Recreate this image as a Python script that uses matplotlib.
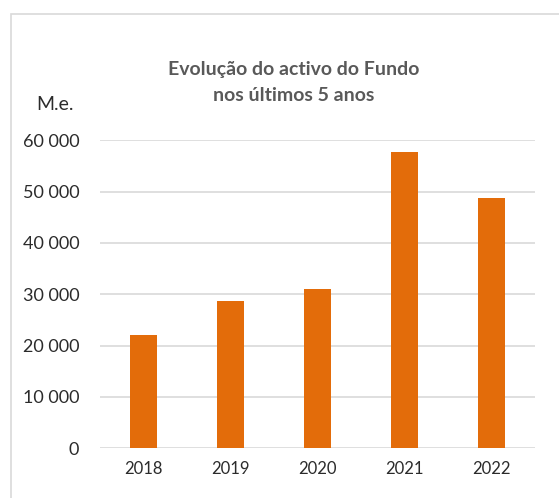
import matplotlib
matplotlib.use("Agg")
import matplotlib.pyplot as plt
from matplotlib.patches import Rectangle
from matplotlib.ticker import FuncFormatter

years = ["2018", "2019", "2020", "2021", "2022"]
values = [22100, 28750, 31100, 57700, 48700]
yticks = [0, 10000, 20000, 30000, 40000, 50000, 60000]

plt.rcParams['font.family'] = ['Lato', 'DejaVu Sans']

W, H = 559, 498
fig = plt.figure(figsize=(W/100, H/100), dpi=100)
fig.patch.set_facecolor('white')

# outer chart frame
fig.patches.append(Rectangle((10.5/W, -0.1), 1.2, 1 - 14.5/H + 0.1,
                             transform=fig.transFigure, fill=False,
                             edgecolor='#d9d9d9', linewidth=1.2))

ax = fig.add_axes([100/W, 1 - 448.3/H, 435/W, (448.3 - 140.3)/H])
ax.bar(range(len(years)), values, width=0.31, color='#e36c0a', zorder=3)
ax.set_xlim(-0.5, len(years) - 0.5)
ax.set_ylim(0, 60000)
ax.set_yticks(yticks)
ax.yaxis.set_major_formatter(FuncFormatter(lambda v, p: f"{int(v):,}".replace(",", " ")))
ax.set_xticks(range(len(years)))
ax.set_xticklabels(years)
ax.grid(axis='y', color='#d9d9d9', linewidth=1.2, zorder=0)
for s in ax.spines.values():
    s.set_visible(False)
ax.tick_params(axis='y', length=0, labelsize=13, labelcolor='#2b2b2b', pad=15)
ax.tick_params(axis='x', length=0, labelsize=12, labelcolor='#2b2b2b', pad=9)

fig.text(294/W, 1 - 82.5/H, "Evolução do activo do Fundo\nnos últimos 5 anos",
         ha='center', va='center', fontsize=14, fontweight='bold',
         color='#595959', linespacing=1.6)
fig.text(55/W, 1 - 104/H, "M.e.", ha='center', va='center',
         fontsize=14, color='#2b2b2b')

fig.savefig("out.png", dpi=100)
